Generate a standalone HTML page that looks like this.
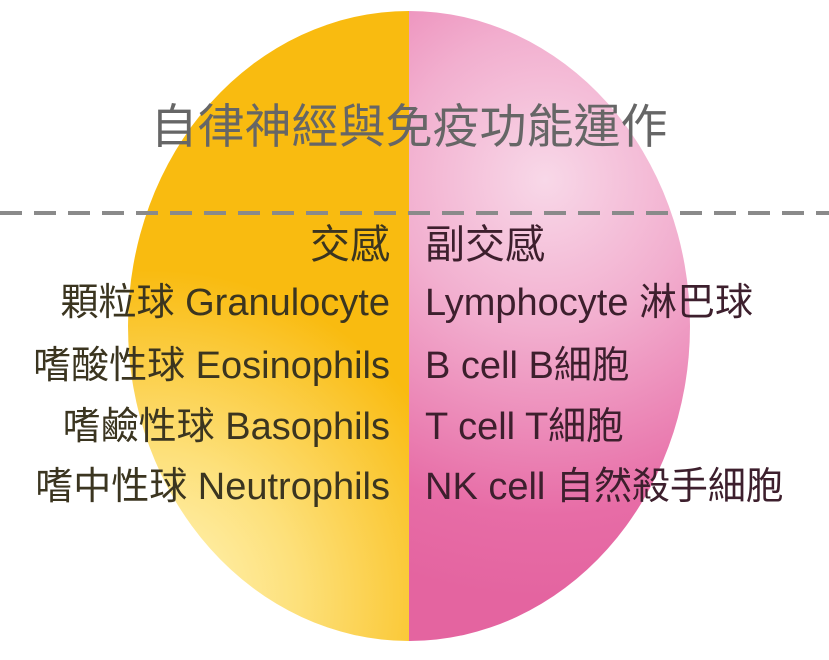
<!DOCTYPE html>
<html><head><meta charset="utf-8"><style>
html,body{margin:0;padding:0;background:#fff;}
body{width:829px;height:660px;position:relative;overflow:hidden;font-family:"Liberation Sans","Noto Sans CJK TC",sans-serif;}
.t{position:absolute;white-space:nowrap;line-height:1;}
.l{right:439px;text-align:right;color:#3b3520;}
.r{left:425px;color:#3d1f2d;}
.row{font-size:38px;}
</style></head><body>
<svg width="829" height="660" style="position:absolute;left:0;top:0">
<defs>
<radialGradient id="o" cx="150" cy="600" r="330" gradientUnits="userSpaceOnUse">
<stop offset="0" stop-color="#fff6c0"/><stop offset="0.45" stop-color="#fde07a"/><stop offset="1" stop-color="#f9bb10"/>
</radialGradient>
<radialGradient id="p" cx="545" cy="180" r="420" gradientUnits="userSpaceOnUse">
<stop offset="0" stop-color="#f8d8e8"/><stop offset="0.35" stop-color="#f2afcf"/><stop offset="0.8" stop-color="#e76ca6"/><stop offset="1" stop-color="#e464a0"/>
</radialGradient>
<clipPath id="c"><ellipse cx="409" cy="326" rx="281" ry="315"/></clipPath>
</defs>
<g clip-path="url(#c)">
<rect x="0" y="0" width="409" height="660" fill="url(#o)"/>
<rect x="409" y="0" width="420" height="660" fill="url(#p)"/>
</g>
<line x1="0" y1="213" x2="829" y2="213" stroke="#8a8a8a" stroke-width="4" stroke-dasharray="22 12"/>
</svg>
<div class="t" style="left:0;width:818px;text-align:center;top:103px;font-size:47px;color:#666;">自律神經與免疫功能運作</div>
<div class="t l" style="top:225px;font-size:40px;">交感</div>
<div class="t r" style="top:225px;font-size:40px;">副交感</div>
<div class="t l row" style="top:284px;">顆粒球 Granulocyte</div>
<div class="t l row" style="top:347px;">嗜酸性球 Eosinophils</div>
<div class="t l row" style="top:408px;">嗜鹼性球 Basophils</div>
<div class="t l row" style="top:468px;">嗜中性球 Neutrophils</div>
<div class="t r row" style="top:284px;">Lymphocyte 淋巴球</div>
<div class="t r row" style="top:347px;">B cell B細胞</div>
<div class="t r row" style="top:408px;">T cell T細胞</div>
<div class="t r row" style="top:468px;">NK cell 自然殺手細胞</div>
</body></html>
